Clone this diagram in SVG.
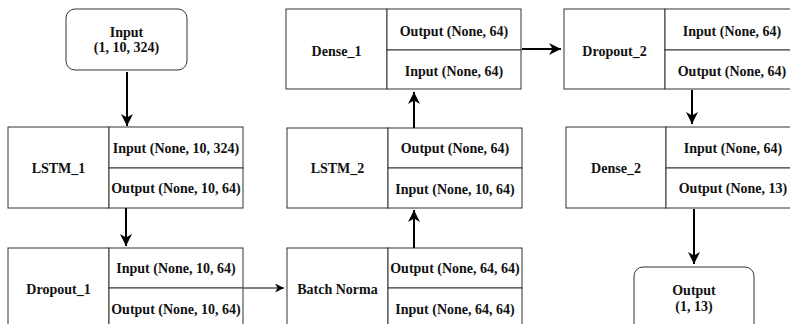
<svg xmlns="http://www.w3.org/2000/svg" width="790" height="324" viewBox="0 0 790 324">
<style>
.b{fill:#fff;stroke:#333;stroke-width:1}
.t{font-family:'Liberation Serif','Times New Roman','DejaVu Serif',serif;font-weight:700;font-size:14px;fill:#111;text-anchor:middle;dominant-baseline:central}
.c{stroke:#000;stroke-width:2;fill:none}
.c1{stroke:#000;stroke-width:1;fill:none}
</style>
<defs>
<marker id="ah" viewBox="0 0 10 10" refX="10" refY="5" markerWidth="6" markerHeight="6" markerUnits="strokeWidth" orient="auto">
<path d="M0,0 L10,5 L0,10 L3,5 Z" fill="#000"/>
</marker>
<marker id="ah1" viewBox="0 0 10 10" refX="10" refY="5" markerWidth="9" markerHeight="9" markerUnits="strokeWidth" orient="auto">
<path d="M0,0 L10,5 L0,10 L3,5 Z" fill="#000"/>
</marker>
</defs>
<g id="input">
<rect class="b" x="66" y="9" width="121" height="61" rx="9"/>
<text class="t" x="126.5" y="32">Input</text>
<text class="t" x="126.5" y="47">(1, 10, 324)</text>
</g>
<g id="lstm1">
<rect class="b" x="8" y="127" width="101" height="81"/>
<rect class="b" x="109" y="127" width="134" height="41"/>
<rect class="b" x="109" y="168" width="134" height="40"/>
<text class="t" x="58.5" y="168">LSTM_1</text>
<text class="t" x="176" y="148">Input (None, 10, 324)</text>
<text class="t" x="176" y="188">Output (None, 10, 64)</text>
</g>
<g id="dropout1">
<rect class="b" x="8" y="248" width="101" height="81"/>
<rect class="b" x="109" y="248" width="134" height="40"/>
<rect class="b" x="109" y="288" width="134" height="41"/>
<text class="t" x="58.5" y="289">Dropout_1</text>
<text class="t" x="176" y="268">Input (None, 10, 64)</text>
<text class="t" x="176" y="309">Output (None, 10, 64)</text>
</g>
<g id="batchnorm">
<rect class="b" x="287" y="248" width="101" height="81"/>
<rect class="b" x="388" y="248" width="134" height="40"/>
<rect class="b" x="388" y="288" width="134" height="41"/>
<text class="t" x="337.5" y="289">Batch Norma</text>
<text class="t" x="455" y="268">Output (None, 64, 64)</text>
<text class="t" x="455" y="309">Input (None, 64, 64)</text>
</g>
<g id="lstm2">
<rect class="b" x="287" y="128" width="101" height="80"/>
<rect class="b" x="388" y="128" width="134" height="40"/>
<rect class="b" x="388" y="168" width="134" height="40"/>
<text class="t" x="337.5" y="168">LSTM_2</text>
<text class="t" x="455" y="148">Output (None, 64)</text>
<text class="t" x="455" y="189">Input (None, 10, 64)</text>
</g>
<g id="dense1">
<rect class="b" x="286" y="9" width="101" height="80"/>
<rect class="b" x="387" y="9" width="134" height="41"/>
<rect class="b" x="387" y="50" width="134" height="39"/>
<text class="t" x="336.5" y="51">Dense_1</text>
<text class="t" x="454" y="31">Output (None, 64)</text>
<text class="t" x="454" y="71">Input (None, 64)</text>
</g>
<g id="dropout2">
<rect class="b" x="564" y="9" width="101" height="80"/>
<rect class="b" x="665" y="9" width="134" height="41"/>
<rect class="b" x="665" y="50" width="134" height="39"/>
<text class="t" x="614.5" y="51">Dropout_2</text>
<text class="t" x="732" y="31">Input (None, 64)</text>
<text class="t" x="732" y="71">Output (None, 64)</text>
</g>
<g id="dense2">
<rect class="b" x="566" y="127" width="100" height="81"/>
<rect class="b" x="666" y="127" width="134" height="41"/>
<rect class="b" x="666" y="168" width="134" height="40"/>
<text class="t" x="616" y="168">Dense_2</text>
<text class="t" x="733" y="148">Input (None, 64)</text>
<text class="t" x="733" y="188">Output (None, 13)</text>
</g>
<g id="output">
<rect class="b" x="634" y="267" width="120" height="70" rx="9"/>
<text class="t" x="694" y="290">Output</text>
<text class="t" x="694" y="306">(1, 13)</text>
</g>
<g id="connectors">
<line class="c" x1="127" y1="72" x2="127" y2="126" marker-end="url(#ah)"/>
<line class="c" x1="126" y1="208" x2="126" y2="246" marker-end="url(#ah)"/>
<line class="c1" x1="244" y1="288" x2="284" y2="288" marker-end="url(#ah1)"/>
<line class="c" x1="414" y1="248" x2="414" y2="210" marker-end="url(#ah)"/>
<line class="c" x1="414" y1="128" x2="414" y2="92" marker-end="url(#ah)"/>
<line class="c" x1="522" y1="49" x2="561" y2="49" marker-end="url(#ah)"/>
<line class="c" x1="692" y1="90" x2="692" y2="124" marker-end="url(#ah)"/>
<line class="c" x1="694" y1="209" x2="694" y2="264" marker-end="url(#ah)"/>
</g>
</svg>
